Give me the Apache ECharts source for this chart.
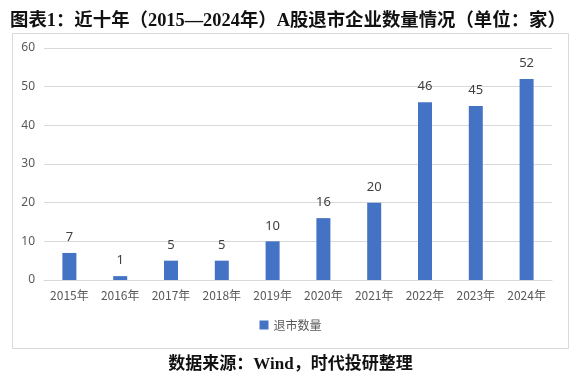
<!DOCTYPE html>
<html><head><meta charset="utf-8">
<script src="https://cdn.jsdelivr.net/npm/echarts@6/dist/echarts.min.js"></script>
<style>html,body{margin:0;padding:0;background:#fff;}#c{width:581px;height:379px;}</style>
</head><body><div id="c"></div>
<script>
var categories = ['2015年','2016年','2017年','2018年','2019年','2020年','2021年','2022年','2023年','2024年'];
var delisted = [7,1,5,5,10,16,20,46,45,52];
var seriesName = '退市数量';
var titleText = '图表1：近十年（2015—2024年）A股退市企业数量情况（单位：家）';
var sourceText = '数据来源：Wind，时代投研整理';

var chart = echarts.init(document.getElementById('c'), null, {renderer:'canvas'});
chart.setOption({
  animation:false,
  backgroundColor:'#fff',
  title:[{
    text:titleText, left:5, top:7,
    textStyle:{fontFamily:'"Liberation Serif","Noto Sans CJK SC"', fontWeight:'bold', fontSize:18.4, color:'#111'}
  },{
    text:sourceText, left:'center', top:351,
    textStyle:{fontFamily:'"Liberation Serif","Noto Sans CJK SC"', fontWeight:'bold', fontSize:17, color:'#111'}
  }],
  graphic:[{type:'rect', shape:{x:12.5,y:33.5,width:556,height:315}, style:{fill:'none',stroke:'#d9d9d9',lineWidth:1}, z:-1}],
  grid:{left:44, right:29, top:48, bottom:99},
  legend:{data:[seriesName], bottom:43, left:'center', itemWidth:9, itemHeight:9, icon:'rect',
    textStyle:{fontFamily:'"Noto Sans CJK SC"', fontSize:12, color:'#595959'}},
  xAxis:{type:'category', data:categories,
    axisLine:{lineStyle:{color:'#d9d9d9'}}, axisTick:{show:false},
    axisLabel:{color:'#595959', fontSize:12, fontFamily:'"Noto Sans CJK SC"', margin:9}},
  yAxis:{type:'value', min:0, max:60, interval:10,
    axisLine:{show:false}, axisTick:{show:false},
    splitLine:{lineStyle:{color:'#d9d9d9'}},
    axisLabel:{color:'#595959', fontSize:12, fontFamily:'"Noto Sans", "DejaVu Sans"', margin:9}},
  series:[{name:seriesName, type:'bar', data:delisted, barWidth:14,
    itemStyle:{color:'#4472C4'},
    label:{show:true, position:'top', distance:9, color:'#404040', fontSize:13, fontFamily:'"Noto Sans"'}}]
});
</script></body></html>
